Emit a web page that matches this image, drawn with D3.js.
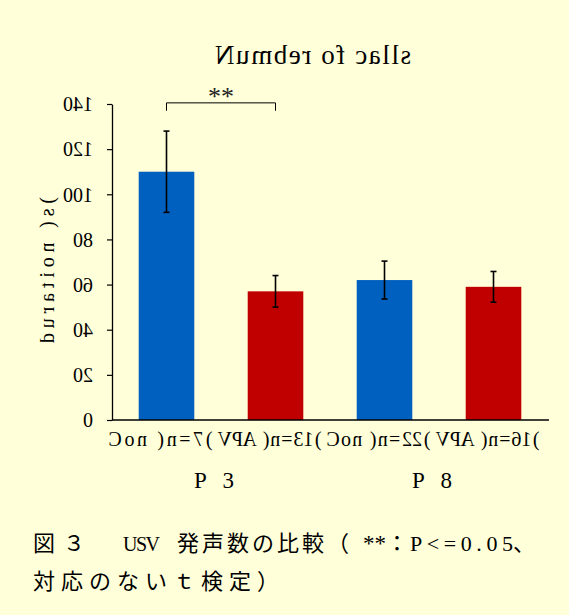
<!DOCTYPE html>
<html>
<head>
<meta charset="utf-8">
<script src="https://cdn.jsdelivr.net/npm/d3@7"></script>
<style>
  html, body { margin: 0; padding: 0; background: #ffffd9; }
  svg { display: block; }
</style>
</head>
<body>
<svg id="chart" width="569" height="615"></svg>
<script>
// USV call duration by group and age
const categories = ["Con (n=7)", "VPA (n=13)", "Con (n=22)", "VPA (n=16)"];
const groupOf = ["Con", "VPA", "Con", "VPA"];
const means = [110, 57, 62, 59];
const errors = [18, 7, 8.4, 6.8];
const ageLabels = ["P 3", "P 8"];
const yTicks = [0, 20, 40, 60, 80, 100, 120, 140];
const titleText = "Number of calls";
const yTitle = "duration (s)";
const sigMark = "**";
// caption pieces: [text, script]
const captionLine1 = [["図３　", "cjk"], ["USV", "latin"], ["発声数の比較（", "cjk"], ["**", "latin"], ["：", "cjk"], ["P<=0.05", "latin"], ["、", "cjk"]];
const captionLine2 = [["対応のないｔ検定）", "cjk"]];

const colors = { Con: "#0060bf", VPA: "#c00000" };
const serif = "'Liberation Serif', 'DejaVu Serif', serif";
const cjk = "'Noto Sans CJK JP', sans-serif";

const svg = d3.select("#chart");
svg.append("rect").attr("width", 569).attr("height", 615).attr("fill", "#ffffd9");

const margin = { left: 112, right: 21 };
const x0 = margin.left, x1 = 569 - margin.right;
const yBottom = 420, yTop = 104;

const x = d3.scaleBand().domain(categories).range([x0, x1]).paddingInner(0.49).paddingOuter(0.245);
const y = d3.scaleLinear().domain([0, 140]).range([yBottom, yTop]);

// Draws a string with each glyph (digit groups as one unit) flipped in place,
// spread out to a given overall length.
function flippedRun(parent, str, opts) {
  const g = parent.append("g").attr("aria-label", str);
  const probe = g.append("text")
    .attr("font-family", opts.family).attr("font-size", opts.size)
    .text(str);
  const node = probe.node();
  const chars = Array.from(str);
  const full = node.getComputedTextLength();
  const ext = chars.map((c, i) => [node.getStartPositionOfChar(i).x, node.getEndPositionOfChar(i).x]);
  probe.remove();
  const len = opts.length || full;
  const extra = chars.length > 1 ? (len - full) / (chars.length - 1) : 0;
  let start = opts.x;
  if (opts.anchor === "middle") start = opts.x - len / 2;
  else if (opts.anchor === "end") start = opts.x - len;
  // group runs of digits
  const tokens = [];
  chars.forEach((c, i) => {
    const last = tokens[tokens.length - 1];
    if (/\d/.test(c) && last && last.digit && last.end === i - 1) { last.text += c; last.end = i; }
    else tokens.push({ text: c, start: i, end: i, digit: /\d/.test(c) });
  });
  tokens.forEach(t => {
    if (t.text === " ") return;
    const left = start + ext[t.start][0] + t.start * extra;
    const right = start + ext[t.end][1] + t.end * extra;
    g.append("text")
      .attr("font-family", opts.family).attr("font-size", opts.size)
      .attr("fill", opts.fill || "#000")
      .attr("text-anchor", "middle")
      .attr("transform", `translate(${(left + right) / 2},${opts.y}) scale(-1,1)`)
      .text(t.text);
  });
  return g;
}

// Title
flippedRun(svg, titleText, { x: 313, y: 64, size: 27, family: serif, anchor: "middle", length: 196 });

// Bars
svg.append("g").selectAll("rect").data(categories).join("rect")
  .attr("x", d => x(d))
  .attr("width", x.bandwidth())
  .attr("y", (d, i) => y(means[i]))
  .attr("height", (d, i) => y(0) - y(means[i]))
  .attr("fill", (d, i) => colors[groupOf[i]]);

// Error bars
const eb = svg.append("g").attr("stroke", "#000").attr("stroke-width", 1.6);
categories.forEach((c, i) => {
  const cx = x(c) + x.bandwidth() / 2;
  const hi = y(means[i] + errors[i]), lo = y(means[i] - errors[i]);
  eb.append("line").attr("x1", cx).attr("x2", cx).attr("y1", hi).attr("y2", lo);
  eb.append("line").attr("x1", cx - 3).attr("x2", cx + 3).attr("y1", hi).attr("y2", hi);
  eb.append("line").attr("x1", cx - 3).attr("x2", cx + 3).attr("y1", lo).attr("y2", lo);
});

// Y axis
const yAxis = svg.append("g").attr("transform", `translate(${x0},0)`)
  .call(d3.axisLeft(y).tickValues(yTicks).tickSize(5).tickSizeOuter(0).tickPadding(19));
yAxis.select(".domain").attr("stroke", "#000").attr("stroke-width", 1.3);
yAxis.selectAll(".tick line").attr("stroke", "#000").attr("stroke-width", 1.2);
yAxis.selectAll(".tick text").each(function () {
  const t = d3.select(this)
    .attr("font-family", serif).attr("font-size", 20).attr("fill", "#000");
  const w = this.getComputedTextLength();
  t.attr("text-anchor", "middle").attr("x", 0).attr("dy", "0.34em")
    .attr("transform", `translate(${-19 - w / 2},0) scale(-1,1)`);
});

// X axis line
svg.append("line").attr("x1", x0).attr("x2", x1 + 1).attr("y1", yBottom).attr("y2", yBottom)
  .attr("stroke", "#000").attr("stroke-width", 1.6);

// Category labels
categories.forEach(c => {
  flippedRun(svg, c, { x: x(c) + x.bandwidth() / 2 - 6, y: 446, size: 20, family: serif, anchor: "middle", length: 104 });
});

// Y axis title
const yt = svg.append("g").attr("transform", "translate(54,270) rotate(-90)");
flippedRun(yt, yTitle, { x: 0, y: 0, size: 20, family: serif, anchor: "middle", length: 146 });

// Significance bracket
const b1 = x(categories[0]) + x.bandwidth() / 2, b2 = x(categories[1]) + x.bandwidth() / 2;
svg.append("path")
  .attr("d", `M${b1},${y(137)}V${y(140.5)}H${b2}V${y(137)}`)
  .attr("fill", "none").attr("stroke", "#000").attr("stroke-width", 1);
svg.append("text").attr("x", (b1 + b2) / 2).attr("y", 105)
  .attr("text-anchor", "middle").attr("font-family", serif).attr("font-size", 26)
  .attr("fill", "#222").text(sigMark);

// Age group labels
ageLabels.forEach((a, k) => {
  const c1 = categories[2 * k], c2 = categories[2 * k + 1];
  const mid = (x(c1) + x(c2) + x.bandwidth()) / 2;
  svg.append("text").attr("x", mid - 7).attr("y", 488)
    .attr("text-anchor", "middle").attr("font-family", serif).attr("font-size", 23)
    .attr("textLength", 40).attr("lengthAdjust", "spacing").text(a);
});

// Caption: CJK runs on a wide character grid, Latin runs compact
function captionLine(runs, yPos, layout) {
  const t = svg.append("text").attr("y", yPos).attr("fill", "#000");
  runs.forEach(([text, script], i) => {
    const L = layout[i];
    const s = t.append("tspan").attr("x", L.x).text(text);
    if (script === "cjk") {
      s.attr("font-family", cjk).attr("font-size", 22).attr("letter-spacing", L.ls);
    } else {
      s.attr("font-family", serif).attr("font-size", L.size || 23);
      if (L.len) s.attr("textLength", L.len).attr("lengthAdjust", "spacing");
    }
  });
}
captionLine(captionLine1, 551, [
  { x: 33, ls: 8 }, { x: 123, len: 37, size: 20 }, { x: 177, ls: 3 }, { x: 363 },
  { x: 386, ls: 0 }, { x: 410, len: 103, size: 22 }, { x: 513, ls: 0 }
]);
captionLine(captionLine2, 589, [{ x: 33, ls: 6 }]);
</script>
</body>
</html>
